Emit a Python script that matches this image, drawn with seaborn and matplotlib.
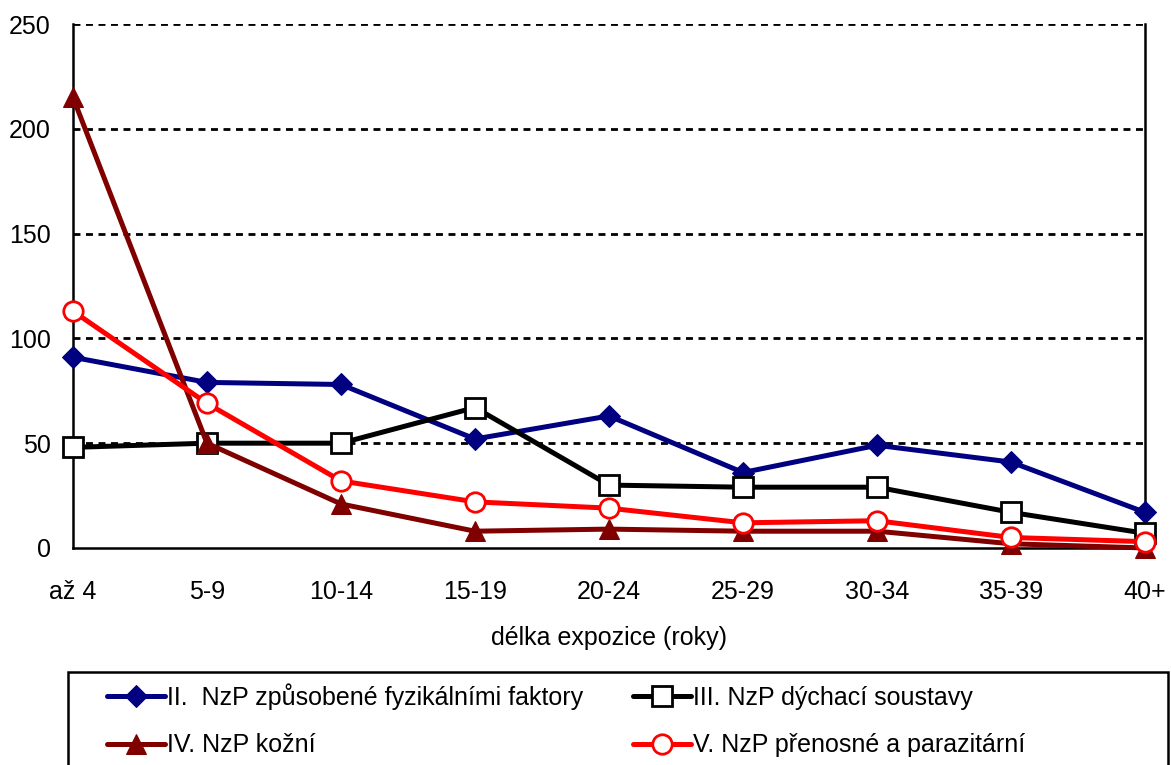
import matplotlib
matplotlib.use("Agg")
import matplotlib.pyplot as plt
from matplotlib.patches import Rectangle
import pandas as pd
import seaborn as sns

# exposure length categories
categories = ["až 4", "5-9", "10-14", "15-19", "20-24", "25-29", "30-34", "35-39", "40+"]

# occupational disease counts per chapter
fyzikalni = [91, 79, 78, 52, 63, 36, 49, 41, 17]
dychaci = [48, 50, 50, 67, 30, 29, 29, 17, 7]
kozni = [215, 50, 21, 8, 9, 8, 8, 2, 0]
prenosne = [113, 69, 32, 22, 19, 12, 13, 5, 3]

series_names = [
    "II.  NzP způsobené fyzikálními faktory",
    "III. NzP dýchací soustavy",
    "IV. NzP kožní",
    "V. NzP přenosné a parazitární",
]

sns.set_style("white")
plt.rcParams["font.family"] = ["Liberation Sans Narrow", "Liberation Sans", "DejaVu Sans"]
plt.rcParams.update({"text.color": "black", "axes.labelcolor": "black",
                     "xtick.color": "black", "ytick.color": "black"})

fig = plt.figure(figsize=(11.71, 7.65), dpi=100)
ax = fig.add_axes([0.0623, 0.2837, 0.9155, 0.6849])

styles = [
    dict(color="#000080", marker="D", markersize=11, markerfacecolor="#000080",
         markeredgecolor="#000080"),
    dict(color="black", marker="s", markersize=14, markerfacecolor="white",
         markeredgecolor="black", markeredgewidth=2),
    dict(color="#800000", marker="^", markersize=14, markerfacecolor="#800000",
         markeredgecolor="#800000"),
    dict(color="#FF0000", marker="o", markersize=14, markerfacecolor="white",
         markeredgecolor="#FF0000", markeredgewidth=2),
]

for name, vals, st in zip(series_names, [fyzikalni, dychaci, kozni, prenosne], styles):
    df = pd.DataFrame({"cat": categories, "val": vals})
    sns.lineplot(data=df, x="cat", y="val", ax=ax, linewidth=3.6, label=name,
                 clip_on=False, zorder=3, **st)

ax.set_xlim(0, len(categories) - 1)
ax.set_ylim(0, 250)
ax.set_yticks([0, 50, 100, 150, 200, 250])
for y in [50, 100, 150, 200, 250]:
    ax.axhline(y, color="black", linewidth=2.0, linestyle=(0, (2.5, 2)), zorder=1)

for side in ["left", "bottom", "right"]:
    ax.spines[side].set_color("black")
    ax.spines[side].set_linewidth(1.8)
ax.spines["top"].set_visible(False)

ax.tick_params(axis="both", direction="out", length=7, width=1.8, color="black",
               labelcolor="black", labelsize=18)
ax.tick_params(axis="y", pad=9)
ax.tick_params(axis="x", pad=16)
ax.set_xlabel("délka expozice (roky)", fontsize=18, labelpad=16, color="black")
ax.set_ylabel("")

handles, labels = ax.get_legend_handles_labels()
ax.get_legend().remove()
order = [0, 2, 1, 3]
fig.legend([handles[i] for i in order], [labels[i] for i in order], ncol=2,
           loc="upper left", bbox_to_anchor=(0.085, 0.117), frameon=False,
           borderaxespad=0, borderpad=0.3, labelcolor="black",
           fontsize=18, handlelength=2.3, handletextpad=0.1, columnspacing=2.0,
           labelspacing=0.95)

fig.patches.append(Rectangle((68 / 1171, -0.05), 1100 / 1171, 0.05 + (765 - 672) / 765,
                             transform=fig.transFigure, fill=False, edgecolor="black",
                             linewidth=1.8))

fig.savefig("out.png", dpi=100)
